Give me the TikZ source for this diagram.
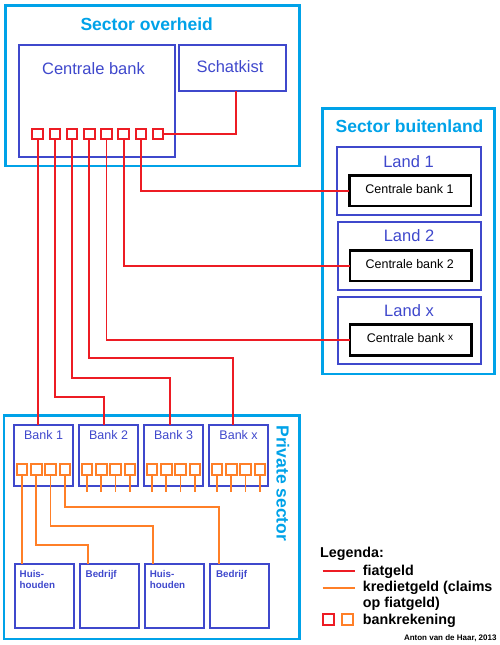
\documentclass[tikz,border=0pt]{standalone}
\usepackage{fontspec}
\setmainfont{Liberation Sans}
\definecolor{cyaan}{RGB}{0,162,232}
\definecolor{indigo}{RGB}{63,72,204}
\definecolor{rood}{RGB}{237,28,36}
\definecolor{oranje}{RGB}{255,127,39}

\begin{document}
\begin{tikzpicture}[x=1pt, y=-1pt,
  box/.style={draw, inner sep=0pt, outer sep=0pt, anchor=north west},
  sector/.style={box, draw=cyaan, line width=2.7pt},
  unitbox/.style={box, draw=indigo, line width=2pt},
  cbbox/.style={box, draw=black, line width=2.5pt, minimum width=121.5pt, minimum height=30.7pt},
  acc/.style={draw, inner sep=0pt, outer sep=0pt, minimum size=10.5pt, line width=2pt},
  fiat/.style={draw=rood, line width=1.7pt},
  krediet/.style={draw=oranje, line width=1.7pt},
  title/.style={font=\fontsize{17.5}{20}\selectfont\bfseries, text=cyaan, anchor=base, inner sep=0pt},
  bigtxt/.style={font=\fontsize{16.5}{19}\selectfont, text=indigo, anchor=base, inner sep=0pt},
  cbtxt/.style={font=\fontsize{12.5}{15}\selectfont, anchor=base, inner sep=0pt},
  banktxt/.style={font=\fontsize{12.5}{15}\selectfont, text=indigo, anchor=base, inner sep=0pt},
  hhtxt/.style={font=\fontsize{9.8}{11}\selectfont\bfseries, text=indigo, anchor=base west, align=left, inner sep=0pt},
  legtxt/.style={font=\fontsize{14.3}{16}\selectfont\bfseries, anchor=base west, inner sep=0pt}]
\useasboundingbox (0,0) rectangle (500,645);

\node[sector, minimum width=294.4pt, minimum height=160.5pt] (overheid) at (5.3,5.5) {};
\node[title] (overheid-t) at (146.7,30.7) {Sector overheid};
\node[unitbox, minimum width=155.8pt, minimum height=111.7pt] (cb) at (19.2,45) {};
\node[bigtxt] (cb-t) at (93.5,74) {Centrale bank};
\node[unitbox, minimum width=106.7pt, minimum height=45.7pt] (schatkist) at (179.3,45) {};
\node[bigtxt] (schatkist-t) at (230,72.7) {Schatkist};
\foreach \i in {1,...,8}
  \node[acc, draw=rood] (r\i) at ({20.5+17.2*\i},133.8) {};

\node[sector, minimum width=172.4pt, minimum height=265.3pt] (buitenland) at (322.3,108.7) {};
\node[title] (buitenland-t) at (409.5,132.3) {Sector buitenland};
\node[unitbox, minimum width=143.3pt, minimum height=67.7pt] (land1) at (337.3,147.3) {};
\node[bigtxt] (land1-t) at (408.5,167.7) {Land 1};
\node[cbbox] (cb1) at (349.3,175.3) {};
\node[cbtxt] (cb1-t) at (409.5,193.3) {Centrale bank 1};
\node[unitbox, minimum width=143.3pt, minimum height=68pt] (land2) at (337.7,222) {};
\node[bigtxt] (land2-t) at (409,241.7) {Land 2};
\node[cbbox] (cb2) at (350,250.3) {};
\node[cbtxt] (cb2-t) at (409.7,268.3) {Centrale bank 2};
\node[unitbox, minimum width=143.3pt, minimum height=67.6pt] (landx) at (337.7,296.7) {};
\node[bigtxt] (landx-t) at (409,316.7) {Land x};
\node[cbbox] (cbx) at (350,324.7) {};
\node[cbtxt] (cbx-t) at (410,342.3) {Centrale bank {\fontsize{10}{10}\selectfont\raisebox{2pt}{x}}};

\node[sector, minimum width=295.7pt, minimum height=223.7pt] (private) at (4,415.3) {};
\node[title, rotate=-90] (private-t) at (276.7,483.3) {Private sector};
\foreach \b/\t in {1/1,2/2,3/3,4/x} {
  \node[unitbox, minimum width=59.3pt, minimum height=61pt] (bank\t) at ({14+65*(\b-1)},425) {};
  \node[banktxt] (bank\t-t) at ({43.6+65*(\b-1)},439.3) {Bank \t};
  \foreach \k in {1,...,4}
    \node[acc, draw=oranje] (o\b\k) at ({22+65*(\b-1)+14.3*(\k-1)},469.7) {};
}
\node[unitbox, minimum width=59.3pt, minimum height=63.7pt] (hh1) at (14.7,564) {};
\node[hhtxt] (hh1-t) at (19.5,588.3) {Huis-\\houden};
\node[unitbox, minimum width=59.3pt, minimum height=63.7pt] (bed1) at (79.7,564) {};
\node[hhtxt] (bed1-t) at (85.5,577.3) {Bedrijf};
\node[unitbox, minimum width=59.3pt, minimum height=63.7pt] (hh2) at (144.8,564) {};
\node[hhtxt] (hh2-t) at (149.6,588.3) {Huis-\\houden};
\node[unitbox, minimum width=59.3pt, minimum height=63.7pt] (bed2) at (210,564) {};
\node[hhtxt] (bed2-t) at (215.8,577.3) {Bedrijf};

\coordinate (s8) at (236,0);
\coordinate (j2) at (104,397.3);
\coordinate (j3) at (169.7,377.7);
\coordinate (j4) at (232.7,358);
\draw[fiat] (r8.east) -| (s8 |- schatkist.south);
\draw[fiat] (r7.south) |- (cb1.west);
\draw[fiat] (r6.south) |- (cb2.west);
\draw[fiat] (r5.south) |- (cbx.west);
\draw[fiat] (r4.south) |- (j4) -- (j4 |- bankx.north);
\draw[fiat] (r3.south) |- (j3) -- (j3 |- bank3.north);
\draw[fiat] (r2.south) |- (j2) -- (j2 |- bank2.north);
\draw[fiat] (r1.south) -- (r1.south |- bank1.north);

\coordinate (stub) at (0,491.7);
\foreach \b in {2,3,4}
  \foreach \k in {1,...,4}
    \draw[krediet] (o\b\k.south) -- (o\b\k.south |- stub);
\coordinate (k2) at (88,545);
\coordinate (k3) at (153.3,526);
\coordinate (k4) at (219,507);
\draw[krediet] (o11.south) -- (o11.south |- hh1.north);
\draw[krediet] (o12.south) |- (k2) -- (k2 |- bed1.north);
\draw[krediet] (o13.south) |- (k3) -- (k3 |- hh2.north);
\draw[krediet] (o14.south) |- (k4) -- (k4 |- bed2.north);

\node[legtxt] (leg) at (320,557.3) {Legenda:};
\coordinate (fa) at (322.7,570.7);
\coordinate (fb) at (355,570.7);
\draw[fiat] (fa) -- (fb);
\node[legtxt] (leg-fiat) at (362.7,575.7) {fiatgeld};
\coordinate (ka) at (322.7,588.3);
\coordinate (kb) at (355,588.3);
\draw[krediet] (ka) -- (kb);
\node[legtxt] (leg-krediet) at (362.7,591.7) {kredietgeld (claims};
\node[legtxt] (leg-op) at (362.7,607.7) {op fiatgeld)};
\node[acc, draw=rood, minimum size=10.7pt] (leg-r) at (328.7,619.7) {};
\node[acc, draw=oranje, minimum size=10.7pt] (leg-o) at (347.5,619.7) {};
\node[legtxt] (leg-rek) at (362.7,624) {bankrekening};
\node[font=\fontsize{8}{9}\selectfont\bfseries, anchor=base east, inner sep=0pt] (credit) at (496.7,640.7) {Anton van de Haar, 2013};
\end{tikzpicture}
\end{document}
